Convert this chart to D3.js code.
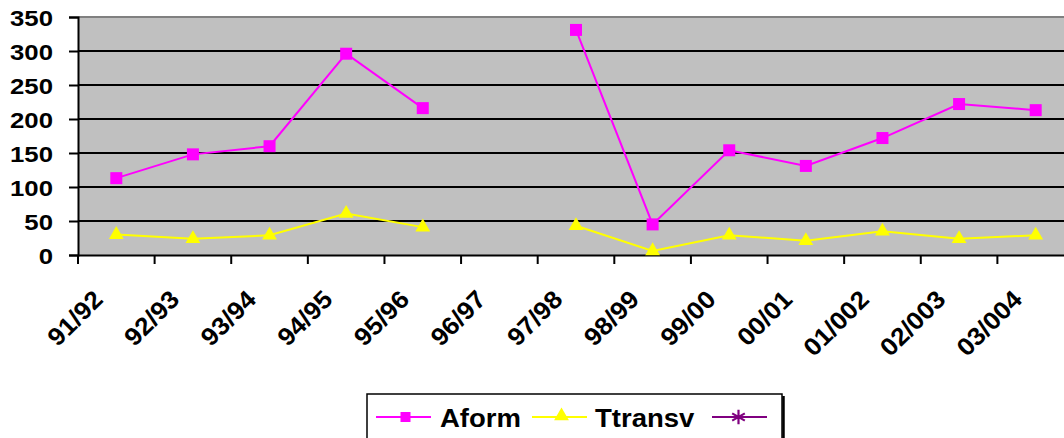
<!DOCTYPE html>
<html>
<head>
<meta charset="utf-8">
<script src="https://cdn.jsdelivr.net/npm/d3@7"></script>
<style>
  html, body { margin: 0; padding: 0; background: #fff; overflow: hidden; }
  svg { display: block; font-family: "Liberation Sans", Arial, sans-serif; font-weight: bold; }
</style>
</head>
<body>
<svg id="chart" width="1064" height="438"></svg>
<script>
// Seasons on the category axis
const seasons = ["91/92","92/93","93/94","94/95","95/96","96/97","97/98","98/99","99/00","00/01","01/002","02/003","03/004"];
// Series values (null = no data that season)
const aform   = [113, 148, 160, 296, 216, null, 331, 45, 154, 131, 172, 222, 213];
const ttransv = [30, 24, 29, 61, 41, null, 43, 6, 29, 21, 35, 24, 29];
// Value axis ticks
const yTicks = [0, 50, 100, 150, 200, 250, 300, 350];
// Legend entries
const legendNames = ["Aform", "Ttransv", ""];

(function draw() {
  const svg = d3.select("#chart");
  const plotL = 78, plotR = 1074, plotT = 17, plotB = 255;

  const x = d3.scaleBand().domain(seasons).range([plotL, plotR]).padding(0);
  const y = d3.scaleLinear().domain([0, 350]).range([plotB, plotT]);

  // plot area
  svg.append("rect").attr("x", plotL).attr("y", plotT)
    .attr("width", plotR - plotL).attr("height", plotB - plotT).attr("fill", "#c0c0c0");

  // horizontal gridlines
  svg.append("g").selectAll("line").data(yTicks.filter(d => d > 0 && d < 350)).join("line")
    .attr("x1", plotL).attr("x2", plotR)
    .attr("y1", d => y(d)).attr("y2", d => y(d))
    .attr("stroke", "#000").attr("stroke-width", 2);
  svg.append("line").attr("x1", plotL).attr("x2", plotR).attr("y1", plotT).attr("y2", plotT)
    .attr("stroke", "#808080").attr("stroke-width", 2);

  // value axis
  const yAxis = svg.append("g").attr("transform", `translate(${plotL},0)`)
    .call(d3.axisLeft(y).tickValues(yTicks).tickSize(9).tickPadding(0).tickFormat(""));
  yAxis.select(".domain").attr("stroke", "#000").attr("stroke-width", 2);
  yAxis.selectAll(".tick line").attr("stroke", "#000").attr("stroke-width", 2);
  svg.append("g").selectAll("text").data(yTicks).join("text")
    .attr("transform", d => `translate(53,${y(d) + 9}) scale(1.12,1)`)
    .attr("text-anchor", "end").attr("font-size", 23).attr("fill", "#000")
    .text(d => d);

  // category axis
  const xAxis = svg.append("g").attr("transform", `translate(0,${plotB})`)
    .call(d3.axisBottom(x).tickSize(0).tickFormat(""));
  xAxis.select(".domain").attr("stroke", "#000").attr("stroke-width", 2);
  svg.append("g").selectAll("line").data(seasons).join("line")
    .attr("x1", d => x(d)).attr("x2", d => x(d))
    .attr("y1", plotB).attr("y2", plotB + 9)
    .attr("stroke", "#000").attr("stroke-width", 2);
  svg.append("g").selectAll("text").data(seasons).join("text")
    .attr("transform", d => `translate(${x(d) + x.bandwidth() / 2 - 12},301) rotate(-45) scale(1.05,1)`)
    .attr("text-anchor", "end").attr("font-size", 25).attr("fill", "#000")
    .text(d => d);

  const cx = d => x(d) + x.bandwidth() / 2;
  const line = d3.line().defined(d => d.v != null).x(d => cx(d.s)).y(d => y(d.v));
  const rows = arr => seasons.map((s, i) => ({ s, v: arr[i] }));

  const triangle = d3.symbol().type(d3.symbolTriangle).size(95);
  const star = d3.symbol().type(d3.symbolAsterisk).size(150);

  // Ttransv
  svg.append("path").datum(rows(ttransv)).attr("d", line)
    .attr("fill", "none").attr("stroke", "#ffff00").attr("stroke-width", 2);
  svg.append("g").selectAll("path").data(rows(ttransv).filter(d => d.v != null)).join("path")
    .attr("d", triangle).attr("transform", d => `translate(${cx(d.s)},${y(d.v)})`)
    .attr("fill", "#ffff00");

  // Aform
  svg.append("path").datum(rows(aform)).attr("d", line)
    .attr("fill", "none").attr("stroke", "#ff00ff").attr("stroke-width", 2);
  svg.append("g").selectAll("rect").data(rows(aform).filter(d => d.v != null)).join("rect")
    .attr("x", d => cx(d.s) - 6).attr("y", d => y(d.v) - 6)
    .attr("width", 12).attr("height", 12).attr("fill", "#ff00ff");

  // legend
  const lg = svg.append("g");
  lg.append("rect").attr("x", 367).attr("y", 394).attr("width", 415).attr("height", 70)
    .attr("fill", "#fff").attr("stroke", "#000").attr("stroke-width", 1.5);
  lg.append("line").attr("x1", 783.5).attr("x2", 783.5).attr("y1", 396).attr("y2", 440)
    .attr("stroke", "#000").attr("stroke-width", 2.5);

  const legendItems = [
    { name: legendNames[0], color: "#ff00ff", x1: 376, x2: 431, mark: "square", tx: 440 },
    { name: legendNames[1], color: "#ffff00", x1: 532, x2: 587, mark: "triangle", tx: 595 },
    { name: legendNames[2], color: "#800080", x1: 712, x2: 767, mark: "star", tx: 775 }
  ];
  const ly = 417;
  legendItems.forEach(it => {
    lg.append("line").attr("x1", it.x1).attr("x2", it.x2).attr("y1", ly).attr("y2", ly)
      .attr("stroke", it.color).attr("stroke-width", 2);
    const mx = (it.x1 + it.x2) / 2 + 2;
    if (it.mark === "square") {
      lg.append("rect").attr("x", mx - 5).attr("y", ly - 5).attr("width", 10).attr("height", 10).attr("fill", it.color);
    } else if (it.mark === "triangle") {
      lg.append("path").attr("d", triangle).attr("transform", `translate(${mx},${ly - 1})`).attr("fill", it.color);
    } else {
      lg.append("path").attr("d", star).attr("transform", `translate(${mx - 3},${ly})`)
        .attr("fill", "none").attr("stroke", it.color).attr("stroke-width", 2.2);
    }
    if (it.name) {
      lg.append("text").attr("transform", `translate(${it.tx},427) scale(1.1,1)`)
        .attr("font-size", 25).attr("fill", "#000").text(it.name);
    }
  });
})();
</script>
</body>
</html>
